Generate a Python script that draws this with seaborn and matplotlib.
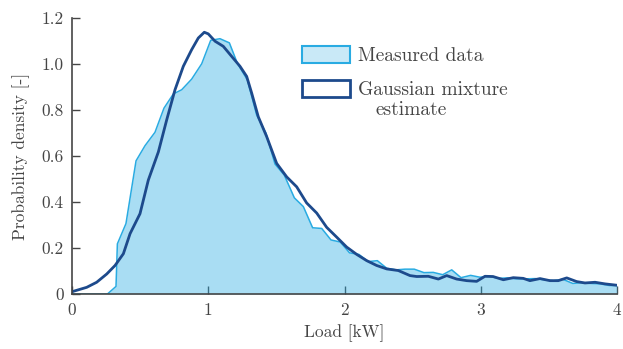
import matplotlib
matplotlib.use("Agg")
import matplotlib.pyplot as plt
from matplotlib.patches import Patch
import seaborn as sns
import pandas as pd

# Measured data (histogram-like density)
meas_x = [0.0, 0.26, 0.323, 0.333, 0.396, 0.47, 0.536, 0.609, 0.675, 0.744, 0.805, 0.878,
          0.952, 1.018, 1.086, 1.155, 1.213, 1.287, 1.355, 1.424, 1.49, 1.558, 1.632,
          1.698, 1.766, 1.833, 1.901, 1.969, 2.037, 2.106, 2.175, 2.241, 2.31, 2.378,
          2.444, 2.512, 2.583, 2.651, 2.721, 2.787, 2.855, 2.926, 2.994, 3.062, 3.129,
          3.196, 3.262, 3.33, 3.40, 3.465, 3.535, 3.603, 3.675, 3.741, 3.809, 3.875,
          3.944, 4.0]
meas_y = [0.0, 0.0, 0.033, 0.218, 0.306, 0.579, 0.645, 0.703, 0.808, 0.870, 0.888, 0.934,
          1.001, 1.103, 1.110, 1.092, 1.004, 0.931, 0.779, 0.699, 0.565, 0.517, 0.418,
          0.380, 0.288, 0.285, 0.235, 0.226, 0.179, 0.172, 0.141, 0.145, 0.112, 0.105,
          0.108, 0.108, 0.093, 0.094, 0.084, 0.105, 0.071, 0.081, 0.073, 0.077, 0.068,
          0.070, 0.066, 0.066, 0.067, 0.062, 0.058, 0.064, 0.046, 0.049, 0.046, 0.044,
          0.037, 0.037]

# Gaussian mixture estimate
gmm_x = [0.0, 0.108, 0.181, 0.255, 0.316, 0.377, 0.426, 0.499, 0.56, 0.634, 0.695, 0.756,
         0.817, 0.878, 0.927, 0.971, 1.0, 1.05, 1.11, 1.172, 1.233, 1.282, 1.319, 1.367,
         1.429, 1.502, 1.576, 1.649, 1.722, 1.796, 1.869, 1.943, 2.016, 2.09, 2.163,
         2.236, 2.31, 2.395, 2.481, 2.53, 2.615, 2.689, 2.75, 2.823, 2.897, 2.97, 3.031,
         3.09, 3.166, 3.239, 3.312, 3.361, 3.435, 3.508, 3.569, 3.631, 3.704, 3.765,
         3.839, 3.912, 4.0]
gmm_y = [0.01, 0.029, 0.051, 0.087, 0.124, 0.175, 0.262, 0.349, 0.495, 0.618, 0.757, 0.888,
         0.99, 1.062, 1.113, 1.138, 1.131, 1.099, 1.077, 1.033, 0.99, 0.946, 0.873, 0.771,
         0.684, 0.568, 0.509, 0.466, 0.396, 0.352, 0.290, 0.247, 0.204, 0.172, 0.145,
         0.124, 0.109, 0.102, 0.080, 0.076, 0.077, 0.065, 0.080, 0.065, 0.058, 0.055,
         0.077, 0.076, 0.062, 0.071, 0.068, 0.058, 0.067, 0.058, 0.058, 0.070, 0.054,
         0.048, 0.051, 0.044, 0.038]

x_ticks = [0, 1, 2, 3, 4]
y_ticks = [0, 0.2, 0.4, 0.6, 0.8, 1.0, 1.2]
y_tick_labels = ["0", "0.2", "0.4", "0.6", "0.8", "1.0", "1.2"]
legend_labels = ["Measured data", "Gaussian mixture"]
legend_cont = "estimate"

sns.set_style("ticks")
plt.rcParams["font.family"] = ["cmr10", "DejaVu Serif"]
plt.rcParams["axes.unicode_minus"] = False

light = "#29abe2"
dark = "#1d4a8c"
textc = "#454545"

fig = plt.figure(figsize=(6.23, 3.49), dpi=100)
ax = fig.add_axes([72 / 623, 1 - 294 / 349, (617 - 72) / 623, (294 - 18) / 349])

meas = pd.DataFrame({"x": meas_x, "y": meas_y})
gmm = pd.DataFrame({"x": gmm_x, "y": gmm_y})

ax.fill_between(meas["x"], meas["y"], color=light, alpha=0.4, linewidth=0)
sns.lineplot(data=meas, x="x", y="y", ax=ax, color=light, linewidth=1.1, sort=False)
sns.lineplot(data=gmm, x="x", y="y", ax=ax, color=dark, linewidth=2.0, sort=False)

ax.set_xlim(0, 4)
ax.set_ylim(0, 1.2)
ax.set_xticks(x_ticks)
ax.set_xticklabels([str(t) for t in x_ticks])
ax.set_yticks(y_ticks)
ax.set_yticklabels(y_tick_labels)
ax.tick_params(direction="in", length=6, width=1, colors=textc, labelsize=12.5, pad=6)
for s in ["top", "right"]:
    ax.spines[s].set_visible(False)
for s in ["left", "bottom"]:
    ax.spines[s].set_color(textc)
    ax.spines[s].set_linewidth(1.2)

ax.set_xlabel("Load [kW]", fontsize=12.5, color=textc, labelpad=5)
ax.set_ylabel("Probability density [-]", fontsize=12.5, color=textc, labelpad=8)

handles = [
    Patch(facecolor=(0.161, 0.671, 0.886, 0.25), edgecolor=light, linewidth=1.5),
    Patch(facecolor="white", edgecolor=dark, linewidth=2.0),
]
leg = fig.legend(handles, legend_labels, loc="upper left", bbox_to_anchor=(292 / 623, 1 - 36 / 349),
                 frameon=False, fontsize=14, handlelength=2.5, handleheight=1.0,
                 handletextpad=0.4, borderpad=0, labelspacing=0.76)
for t in leg.get_texts():
    t.set_color(textc)

fig.text(375 / 623, 1 - 110 / 349, legend_cont, fontsize=14, color=textc,
         ha="left", va="center")

fig.savefig("out.png", dpi=100)
